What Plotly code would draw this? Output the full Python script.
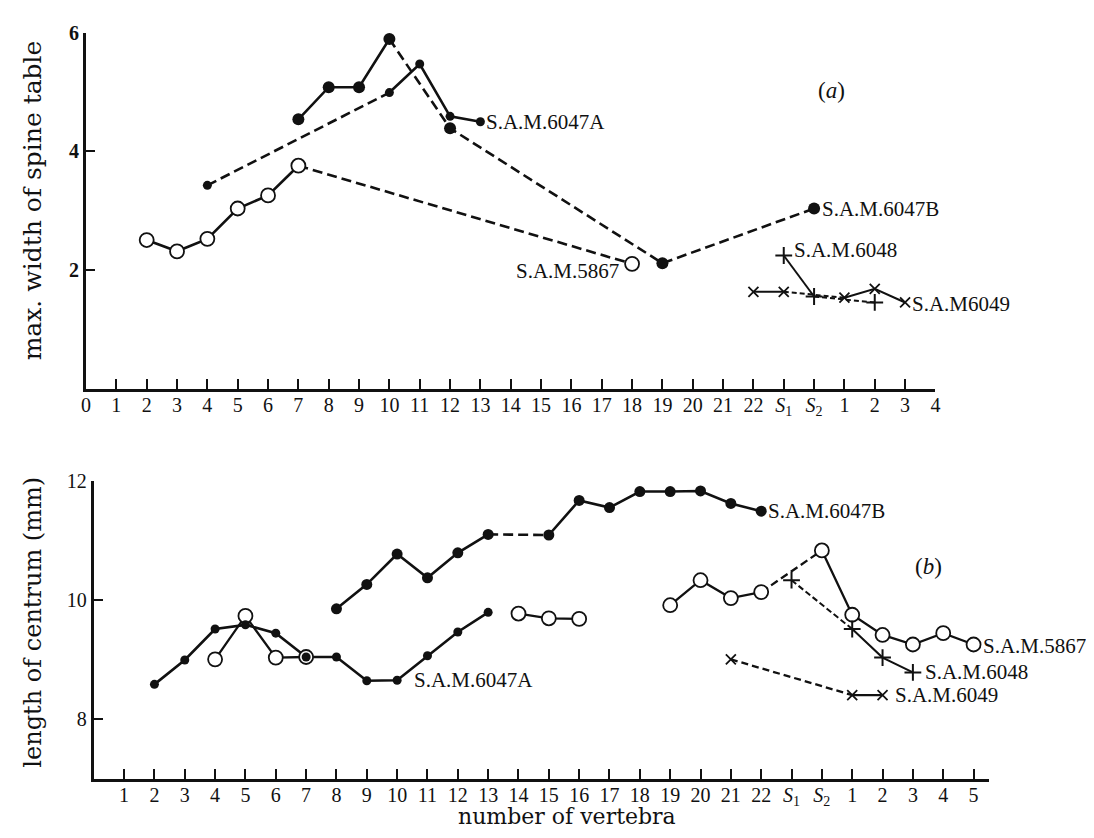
import plotly.graph_objects as go

# ---------------- data ----------------
# x positions: 0..22 = vertebra number, 23 = S1, 24 = S2, 25.. = caudal 1, 2, 3 ...
TOP_TICK_POS = [0, 1, 2, 3, 4, 5, 6, 7, 8, 9, 10, 11, 12, 13, 14, 15, 16, 17, 18, 19, 20,
                21, 22, 23, 24, 25, 26, 27, 28]
TOP_TICK_LABELS = ["0", "1", "2", "3", "4", "5", "6", "7", "8", "9", "10", "11", "12", "13",
                   "14", "15", "16", "17", "18", "19", "20", "21", "22",
                   "<i>S</i><sub>1</sub>", "<i>S</i><sub>2</sub>", "1", "2", "3", "4"]
BOT_TICK_POS = [1, 2, 3, 4, 5, 6, 7, 8, 9, 10, 11, 12, 13, 14, 15, 16, 17, 18, 19, 20,
                21, 22, 23, 24, 25, 26, 27, 28, 29]
BOT_TICK_LABELS = ["1", "2", "3", "4", "5", "6", "7", "8", "9", "10", "11", "12", "13",
                   "14", "15", "16", "17", "18", "19", "20", "21", "22",
                   "<i>S</i><sub>1</sub>", "<i>S</i><sub>2</sub>", "1", "2", "3", "4", "5"]
TOP_Y_TICKS = [2, 4, 6]
TOP_Y_LABELS = ["<b>2</b>", "<b>4</b>", "<b>6</b>"]
BOT_Y_TICKS = [8, 10, 12]
BOT_Y_LABELS = ["8", "10", "12"]

# (a) max. width of spine table
A_6047A_POS = [4, 10, 11, 12, 13]
A_6047A_VAL = [3.43, 4.99, 5.47, 4.59, 4.50]
A_6047B_POS = [7, 8, 9, 10, 12, 19, 24]
A_6047B_VAL = [4.54, 5.08, 5.08, 5.89, 4.39, 2.12, 3.04]
A_5867_POS = [2, 3, 4, 5, 6, 7, 18]
A_5867_VAL = [2.51, 2.32, 2.53, 3.04, 3.26, 3.76, 2.11]
A_6048_POS = [23, 24, 26]
A_6048_VAL = [2.25, 1.56, 1.46]
A_6049_POS = [22, 23, 25, 26, 27]
A_6049_VAL = [1.64, 1.64, 1.54, 1.69, 1.46]

# (b) length of centrum (mm)
B_6047A_POS = [2, 3, 4, 5, 6, 7, 8, 9, 10, 11, 12, 13]
B_6047A_VAL = [8.59, 9.00, 9.52, 9.59, 9.45, 9.05, 9.05, 8.65, 8.66, 9.07, 9.47, 9.80]
B_6047B_POS = [8, 9, 10, 11, 12, 13, 15, 16, 17, 18, 19, 20, 21, 22]
B_6047B_VAL = [9.86, 10.27, 10.78, 10.38, 10.80, 11.11, 11.10, 11.68, 11.56, 11.83, 11.83,
               11.84, 11.63, 11.50]
B_5867_POS = [4, 5, 6, 7, 14, 15, 16, 19, 20, 21, 22, 24, 25, 26, 27, 28, 29]
B_5867_VAL = [9.01, 9.74, 9.04, 9.05, 9.78, 9.70, 9.69, 9.92, 10.34, 10.04, 10.14, 10.84,
              9.76, 9.42, 9.26, 9.45, 9.26]
B_6048_POS = [23, 25, 26, 27]
B_6048_VAL = [10.34, 9.52, 9.04, 8.79]
B_6049_POS = [21, 25, 26]
B_6049_VAL = [9.01, 8.41, 8.41]

# ---------------- link styles (S = solid, D = dashed, None = gap) ----------------
S, D = "solid", "dash"
A_6047A_LINKS = [D, S, S, S]
A_6047B_LINKS = [S, S, S, D, D, D]
A_5867_LINKS = [S, S, S, S, S, D]
A_6048_LINKS = [S, D]
A_6049_LINKS = [S, D, S, S]
B_6047A_LINKS = [S, S, S, S, S, S, S, S, S, S, S]
B_6047B_LINKS = [S, S, S, S, S, D, S, S, S, S, S, S, S]
B_5867_LINKS = [S, S, S, None, S, S, None, S, S, S, D, S, S, S, S, S]
B_6048_LINKS = [D, S, S]
B_6049_LINKS = [D, S]

FONT = "Liberation Serif"
TITLE_FONT = "DejaVu Serif"
BLACK = "#111111"

# page body has an 8px margin: the figure is placed at (8, 8)
OFF = 8
W, H = 1094 - OFF, 838 - 2 * OFF


def fx(px):
    return (px - OFF) / W


def fy(py):
    return 1 - (py - OFF) / H


fig = go.Figure()


def add_lines(pos, val, links, xa, ya, width, dashpat):
    for style in (S, D):
        xs, ys = [], []
        i = 0
        n = len(links)
        while i < n:
            if links[i] != style:
                i += 1
                continue
            j = i
            while j < n and links[j] == style:
                j += 1
            xs += list(pos[i:j + 1]) + [None]
            ys += list(val[i:j + 1]) + [None]
            i = j
        if xs:
            fig.add_trace(go.Scatter(
                x=xs, y=ys, mode="lines", xaxis=xa, yaxis=ya, showlegend=False,
                hoverinfo="skip", connectgaps=False,
                line=dict(color=BLACK, width=width,
                          dash="solid" if style == S else dashpat)))


def add_markers(pos, val, xa, ya, marker):
    fig.add_trace(go.Scatter(x=pos, y=val, mode="markers", xaxis=xa, yaxis=ya,
                             showlegend=False, marker=marker))


big_dot = dict(symbol="circle", size=12, color=BLACK, line=dict(width=0))
mid_dot = dict(symbol="circle", size=11, color=BLACK, line=dict(width=0))
small_dot = dict(symbol="circle", size=9, color=BLACK, line=dict(width=0))
open_circ = dict(symbol="circle", size=14, color="white", line=dict(width=1.8, color=BLACK))
plus_m = dict(symbol="cross-thin", size=12, color=BLACK, line=dict(width=2, color=BLACK))
x_m = dict(symbol="x-thin", size=10, color=BLACK, line=dict(width=1.8, color=BLACK))

# lines, panel (a)
add_lines(A_6047A_POS, A_6047A_VAL, A_6047A_LINKS, "x", "y", 2.6, "10px,5px")
add_lines(A_6047B_POS, A_6047B_VAL, A_6047B_LINKS, "x", "y", 2.6, "10px,5px")
add_lines(A_5867_POS, A_5867_VAL, A_5867_LINKS, "x", "y", 2.6, "10px,5px")
add_lines(A_6048_POS, A_6048_VAL, A_6048_LINKS, "x", "y", 2.0, "5px,3px")
add_lines(A_6049_POS, A_6049_VAL, A_6049_LINKS, "x", "y", 2.0, "5px,3px")
# lines, panel (b)
add_lines(B_6047A_POS, B_6047A_VAL, B_6047A_LINKS, "x2", "y2", 2.6, "10px,5px")
add_lines(B_6047B_POS, B_6047B_VAL, B_6047B_LINKS, "x2", "y2", 2.6, "10px,5px")
add_lines(B_5867_POS, B_5867_VAL, B_5867_LINKS, "x2", "y2", 2.3, "8px,4px")
add_lines(B_6048_POS, B_6048_VAL, B_6048_LINKS, "x2", "y2", 2.0, "6px,3px")
add_lines(B_6049_POS, B_6049_VAL, B_6049_LINKS, "x2", "y2", 2.3, "7px,4px")

# markers
add_markers(A_5867_POS, A_5867_VAL, "x", "y", open_circ)
add_markers(A_6047B_POS, A_6047B_VAL, "x", "y", big_dot)
add_markers(A_6047A_POS, A_6047A_VAL, "x", "y", small_dot)
add_markers(A_6048_POS, A_6048_VAL, "x", "y", plus_m)
add_markers(A_6049_POS, A_6049_VAL, "x", "y", x_m)
add_markers(B_5867_POS, B_5867_VAL, "x2", "y2", open_circ)
add_markers(B_6047B_POS, B_6047B_VAL, "x2", "y2", mid_dot)
add_markers(B_6047A_POS, B_6047A_VAL, "x2", "y2", small_dot)
add_markers(B_6048_POS, B_6048_VAL, "x2", "y2", plus_m)
add_markers(B_6049_POS, B_6049_VAL, "x2", "y2", x_m)

# ---------------- annotations ----------------
lab_font = dict(family=FONT, size=21, color=BLACK)


def label(text, x, y, xa, ya, xanchor, xshift, yshift=0):
    fig.add_annotation(text=text, x=x, y=y, xref=xa, yref=ya, xanchor=xanchor,
                       yanchor="middle", xshift=xshift, yshift=yshift,
                       showarrow=False, font=lab_font)


label("S.A.M.6047A", A_6047A_POS[-1], A_6047A_VAL[-1], "x", "y", "left", 4)
label("S.A.M.6047B", A_6047B_POS[-1], A_6047B_VAL[-1], "x", "y", "left", 6)
label("S.A.M.6048", A_6048_POS[0], A_6048_VAL[0], "x", "y", "left", 8, 5)
label("S.A.M.5867", A_5867_POS[-1], A_5867_VAL[-1], "x", "y", "right", -11, -7)
label("S.A.M6049", A_6049_POS[-1], A_6049_VAL[-1], "x", "y", "left", 5, -2)

label("S.A.M.6047A", B_6047A_POS[8], B_6047A_VAL[8], "x2", "y2", "left", 15, 0)
label("S.A.M.6047B", B_6047B_POS[-1], B_6047B_VAL[-1], "x2", "y2", "left", 5)
label("S.A.M.5867", B_5867_POS[-1], B_5867_VAL[-1], "x2", "y2", "left", 7, -2)
label("S.A.M.6048", B_6048_POS[-1], B_6048_VAL[-1], "x2", "y2", "left", 10)
label("S.A.M.6049", B_6049_POS[-1], B_6049_VAL[-1], "x2", "y2", "left", 10)


def paper_text(text, X, Y, size, family, angle=0, yanchor="middle"):
    fig.add_annotation(text=text, x=fx(X), y=fy(Y), xref="paper", yref="paper",
                       xanchor="center", yanchor=yanchor, textangle=angle, borderpad=0,
                       showarrow=False, font=dict(family=family, size=size, color=BLACK))


paper_text("(<i>a</i>)", 834, 80, 23, FONT)
paper_text("(<i>b</i>)", 932, 563, 23, FONT)
paper_text("max. width of spine table", 28, 192, 25, TITLE_FONT, -90)
paper_text("length of centrum (mm)", 28, 619, 24, TITLE_FONT, -90)
paper_text("number of vertebra", 567, 838 - OFF, 22, TITLE_FONT, 0, "bottom")

axis_common = dict(showline=True, linewidth=3, linecolor=BLACK, showgrid=False,
                   zeroline=False, ticks="inside", tickwidth=1.5, tickcolor=BLACK,
                   tickfont=dict(family=FONT, size=20, color=BLACK), mirror=False,
                   fixedrange=True)

fig.update_layout(
    width=W, height=H,
    margin=dict(l=0, r=0, t=0, b=0),
    paper_bgcolor="white", plot_bgcolor="white",
    showlegend=False,
    xaxis=dict(domain=[fx(81.7), fx(939)], range=[0, 28], anchor="y", ticklabelstandoff=-4,
               tickvals=TOP_TICK_POS, ticktext=TOP_TICK_LABELS, ticklen=10, **axis_common),
    yaxis=dict(domain=[fy(383.3), fy(21.7)], range=[0, 6], anchor="x",
               tickvals=TOP_Y_TICKS, ticktext=TOP_Y_LABELS, ticklen=9, **axis_common),
    xaxis2=dict(domain=[fx(89.5), fx(992.8)], range=[0, 29.5], anchor="y2",
                ticklabelstandoff=-4,
                tickvals=BOT_TICK_POS, ticktext=BOT_TICK_LABELS, ticklen=10, **axis_common),
    yaxis2=dict(domain=[fy(778.3), fy(476.7)], range=[7, 12], anchor="x2",
                tickvals=BOT_Y_TICKS, ticktext=BOT_Y_LABELS, ticklen=9, **axis_common),
)

fig.write_html("out.html")
